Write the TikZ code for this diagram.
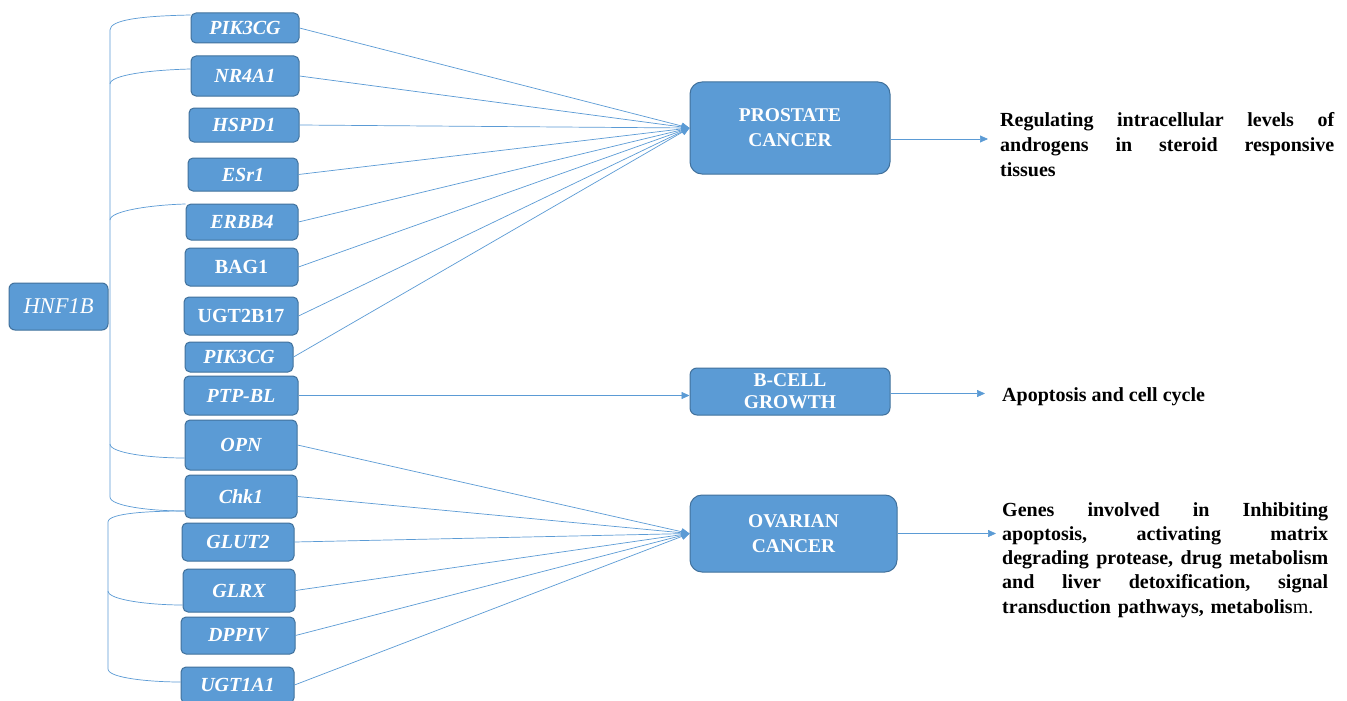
\documentclass[tikz,border=0pt]{standalone}
\usepackage{fontspec}
\setmainfont{Liberation Serif}
\usetikzlibrary{arrows.meta,calc}
\definecolor{boxfill}{HTML}{5B9BD5}
\definecolor{boxdraw}{HTML}{41719C}
\definecolor{lnkc}{HTML}{5B9BD5}
\newcommand\JLine[2]{\leavevmode\hbox to #1{#2}}
\begin{document}
\begin{tikzpicture}[x=1pt,y=-1pt,
 gene/.style={draw=boxdraw, fill=boxfill, line width=1pt, rounded corners=5pt, text=white, font=\fontsize{20}{22}\selectfont\bfseries\itshape, inner sep=0},
 gup/.style={gene, font=\fontsize{20}{22}\selectfont\bfseries},
 big/.style={draw=boxdraw, fill=boxfill, line width=1pt, rounded corners=12pt, text=white, font=\fontsize{19.5}{25}\selectfont\bfseries, align=center, inner sep=0},
 lnk/.style={draw=lnkc, line width=0.7pt},
 arr/.style={lnk, -{Triangle[length=8pt,width=7pt]}},
 desc/.style={anchor=base west, inner sep=0, font=\bfseries, align=left}
]
\fill[white] (0,0) rectangle (1347,701);
\useasboundingbox (0,0) rectangle (1347,701);

% source
\node[gene, font=\fontsize{22.5}{24}\selectfont\itshape, minimum width=99pt, minimum height=47pt, rounded corners=6pt] (hnf1b) at (58.5,306.5) {HNF1B};

% genes
\node[gene, minimum width=108pt, minimum height=30pt] (pikA) at (245,28) {PIK3CG};
\node[gene, minimum width=108pt, minimum height=40pt] (nr4a1) at (245,76) {NR4A1};
\node[gene, minimum width=110pt, minimum height=34pt] (hspd1) at (244,125) {HSPD1};
\node[gene, minimum width=110pt, minimum height=33pt] (esr1) at (243,174.5) {ESr1};
\node[gene, minimum width=112pt, minimum height=36pt] (erbb4) at (242,222) {ERBB4};
\node[gup, minimum width=113pt, minimum height=38pt] (bag1) at (241.5,267) {BAG1};
\node[gup, minimum width=114pt, minimum height=38pt] (ugt2b17) at (241,316) {UGT2B17};
\node[gene, minimum width=108pt, minimum height=30pt] (pikB) at (239,357) {PIK3CG};
\node[gene, minimum width=114pt, minimum height=39pt] (ptpbl) at (241,395.5) {PTP-BL};
\node[gene, minimum width=112pt, minimum height=50pt] (opn) at (241,445) {OPN};
\node[gene, minimum width=112pt, minimum height=43pt] (chk1) at (241,496.5) {Chk1};
\node[gene, minimum width=112pt, minimum height=38pt] (glut2) at (238,542) {GLUT2};
\node[gene, minimum width=112pt, minimum height=43pt] (glrx) at (239,590.5) {GLRX};
\node[gene, minimum width=114pt, minimum height=37pt] (dppiv) at (238,635.5) {DPPIV};
\node[gene, minimum width=113pt, minimum height=36pt] (ugt1a1) at (237.5,685) {UGT1A1};

% targets
\node[big, minimum width=200pt, minimum height=92pt] (prostate) at (790,128) {PROSTATE\\CANCER};
\node[big, minimum width=200pt, minimum height=47pt, rounded corners=7pt, font=\fontsize{19.5}{22}\selectfont\bfseries] (bcell) at (790,391.5) {B-CELL\\GROWTH};
\node[big, minimum width=207pt, minimum height=77pt] (ovarian) at (793.5,533.5) {OVARIAN\\CANCER};

% descriptions
\node[desc, font=\fontsize{20}{25}\selectfont\bfseries, text width=334pt] (pdesc) at (1000,126)
 {\JLine{334pt}{Regulating\hfill intracellular\hfill levels\hfill of}\\
  \JLine{334pt}{androgens\hfill in\hfill steroid\hfill responsive}\\
  tissues};
\node[desc, font=\fontsize{20}{24}\selectfont\bfseries] (bdesc) at (1002,401) {Apoptosis and cell cycle};
\node[desc, font=\fontsize{20}{24.3}\selectfont\bfseries, text width=326pt] (odesc) at (1002,516)
 {\JLine{326pt}{Genes\hfill involved\hfill in\hfill Inhibiting}\\
  \JLine{326pt}{apoptosis,\hfill activating\hfill matrix}\\
  \JLine{326pt}{degrading\hfill protease,\hfill drug\hfill metabolism}\\
  \JLine{326pt}{and\hfill liver\hfill detoxification,\hfill signal}\\
  transduction pathways, metabolis\textmd{m.}};

\coordinate (pa) at (988,139);
\coordinate (ba) at (985,393.5);
\coordinate (oa) at (996,533.5);

% brackets
\draw[lnk] ($(pikA.west)+(0,-13)$) .. controls (140,16) and (110,20) .. (110,30) -- (110,497)
  .. controls (110,506) and (150,511) .. ($(chk1.west)+(0,14.5)$);
\draw[lnk] ($(chk1.west)+(0,14.5)$) .. controls (150,511) and (108,513) .. (108,522) -- (108,669)
  .. controls (108,678) and (150,682) .. ($(ugt1a1.west)+(0,-3)$);
\draw[lnk] (110,84) .. controls (110,75) and (150,70) .. ($(nr4a1.west)+(0,-7)$);
\draw[lnk] (110,220) .. controls (110,211) and (150,205) .. ($(erbb4.west)+(0,-18)$);
\draw[lnk] (110,444) .. controls (110,453) and (150,458) .. ($(opn.west)+(0,13)$);
\draw[lnk] (108,591) .. controls (108,600) and (150,605) .. ($(glrx.west)+(0,14.5)$);

% gene -> disease
\foreach \g in {pikA,nr4a1,hspd1,esr1,erbb4,bag1,ugt2b17,pikB}
  \draw[arr] (\g.east) -- (prostate.west);
\foreach \g in {opn,chk1,glut2,glrx,dppiv,ugt1a1}
  \draw[arr] (\g.east) -- (ovarian.west);
\draw[arr] (ptpbl.east) -- (ptpbl.east -| bcell.west);

% disease -> description
\draw[arr] (prostate.east |- pa) -- (pa);
\draw[arr] (bcell.east |- ba) -- (ba);
\draw[arr] (ovarian.east |- oa) -- (oa);
\end{tikzpicture}
\end{document}
